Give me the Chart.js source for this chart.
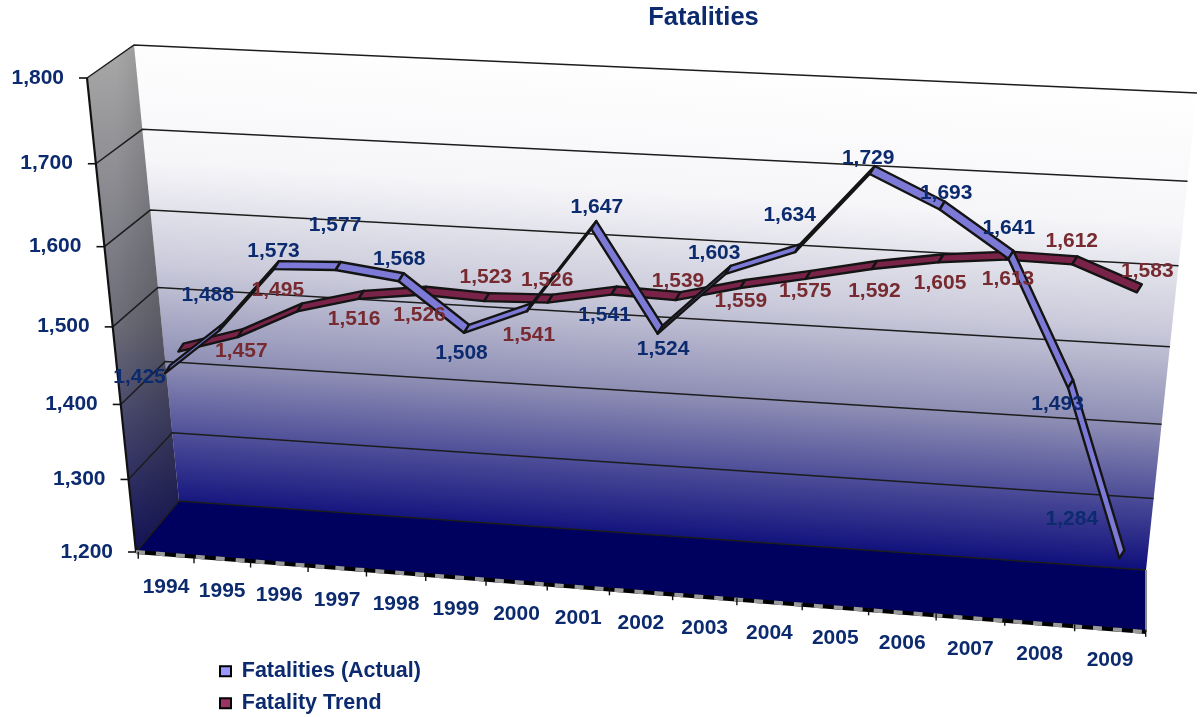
<!DOCTYPE html>
<html>
<head>
<meta charset="utf-8">
<title>Fatalities</title>
<script src="https://cdn.jsdelivr.net/npm/chart.js@4"></script>
<style>
  body { margin: 0; background: #fff; }
</style>
</head>
<body>
<canvas id="chart" width="1201" height="717"></canvas>
<script>
const years = ["1994","1995","1996","1997","1998","1999","2000","2001","2002","2003","2004","2005","2006","2007","2008","2009"];
const actual = [1425,1488,1573,1577,1568,1508,1541,1647,1524,1603,1634,1729,1693,1641,1493,1284];
// the 1994 trend point has no readable label, value estimated from the line
const trend = [1433,1457,1495,1516,1526,1523,1526,1541,1539,1559,1575,1592,1605,1613,1612,1583];
const yMin = 1200;
const yMax = 1800;
const yStep = 100;

const navy = "#0c2a6e";
const brown = "#772b30";
const fontName = "'Liberation Sans', Arial, sans-serif";

// where each value label sits, relative to its point
const actualShift = [[-28,8],[-14,-31],[-3,-14],[-3,-41],[-2,-18],[-5,25],[75,8],[3,-18],[3,20],[-14,-16],[-8,-33],[-4,-12],[4,-12],[-2,-26],[-13,21],[-50,-35]];
const trendShift = [null,[1,18],[-22,-17],[-7,25],[-4,25],[-1,-20],[-3,-18],[-85,45],[0,-15],[-2,18],[-3,17],[0,26],[-1,25],[0,24],[-3,-19],[8,-17]];

// corners are [u0v0, u1v0, u1v1, u0v1]
const backWall = [[179,501],[1146,570],[1197,93],[134,45]];
const leftWall = [[136,552],[179,501],[134,45],[87,78]];
const floorQuad = [[136,552],[1146,632],[1146,570],[179,501]];
const actualPlane = [[185,529],[1114,617],[1176,120],[135,73]];
const trendPlane = [[198,519],[1108,583],[1159,103],[151,49]];
const yearPlane = [[166,587],[1110,660],[1160,165],[124,147]];

function homography(q) {
  const [[x0,y0],[x1,y1],[x2,y2],[x3,y3]] = q;
  const dx1 = x1-x2, dx2 = x3-x2, sx = x0-x1+x2-x3;
  const dy1 = y1-y2, dy2 = y3-y2, sy = y0-y1+y2-y3;
  const den = dx1*dy2-dx2*dy1;
  const g = (sx*dy2-dx2*sy)/den;
  const h = (dx1*sy-sx*dy1)/den;
  const a = x1-x0+g*x1, b = x3-x0+h*x3, d = y1-y0+g*y1, e = y3-y0+h*y3;
  return (u,v) => {
    const w = g*u+h*v+1;
    return { x:(a*u+b*v+x0)/w, y:(d*u+e*v+y0)/w };
  };
}
const onBack = homography(backWall);
const onLeft = homography(leftWall);
const onYears = homography(yearPlane);
const planes = [homography(actualPlane), homography(trendPlane)];

// the walls are a little more squeezed low down than a plain projection gives
function bow(v, k) {
  return v*(1-k*(1-v));
}

function unitX(chart, px) {
  const a = chart.chartArea;
  return (px-a.left)/(a.right-a.left);
}
function unitY(chart, py) {
  const a = chart.chartArea;
  return (a.bottom-py)/(a.bottom-a.top);
}

function fillQuad(ctx, q, style) {
  ctx.beginPath();
  q.forEach((p,i) => i ? ctx.lineTo(p[0],p[1]) : ctx.moveTo(p[0],p[1]));
  ctx.closePath();
  ctx.fillStyle = style;
  ctx.fill();
}

function wideText(ctx, text, x, y, color, align) {
  ctx.save();
  ctx.translate(x,y);
  ctx.scale(1.05,1);
  ctx.font = "bold 20px "+fontName;
  ctx.fillStyle = color;
  ctx.textAlign = align || "center";
  ctx.textBaseline = "middle";
  ctx.fillText(text,0,0);
  ctx.restore();
}

const perspective = {
  id: "perspective",
  afterLayout(chart) {
    const t = chart.titleBlock;
    t.left += 103; t.right += 103;
    const l = chart.legend;
    const w = l.right-l.left;
    l.left = 209.5; l.right = 209.5+w; l.top = 650; l.bottom = 750;
  },
  afterDatasetsUpdate(chart) {
    chart.data.datasets.forEach((ds,i) => {
      chart.getDatasetMeta(i).data.forEach(pt => {
        if (pt.skip) return;
        const p = planes[i](unitX(chart,pt.x), unitY(chart,pt.y));
        pt.x = p.x; pt.y = p.y;
      });
    });
  },
  beforeDatasetsDraw(chart) {
    const ctx = chart.ctx, sy = chart.scales.y, sx = chart.scales.x;
    ctx.save();

    let g = ctx.createLinearGradient(690,60,660,540);
    g.addColorStop(0,"#ffffff");
    g.addColorStop(0.28,"#f6f6f9");
    g.addColorStop(0.5,"#c9c9da");
    g.addColorStop(0.7,"#8d8db4");
    g.addColorStop(0.85,"#4c4c98");
    g.addColorStop(1,"#0f0f7c");
    fillQuad(ctx, backWall, g);

    g = ctx.createLinearGradient(120,50,135,550);
    g.addColorStop(0,"#a8a8a8");
    g.addColorStop(0.55,"#6c6c78");
    g.addColorStop(1,"#15155f");
    fillQuad(ctx, leftWall, g);
    g = ctx.createLinearGradient(115,0,178,0);
    g.addColorStop(0,"rgba(0,0,0,0)");
    g.addColorStop(1,"rgba(0,0,0,0.22)");
    fillQuad(ctx, leftWall, g);

    fillQuad(ctx, floorQuad, "#00005f");

    // value grid on both walls
    ctx.strokeStyle = "#1c1c1c";
    ctx.lineWidth = 1.5;
    sy.ticks.forEach(t => {
      const v = unitY(chart, sy.getPixelForValue(t.value));
      const f = onLeft(0,bow(v,0.055)), m = onBack(0,bow(v,0.035)), e = onBack(1,bow(v,0.03));
      ctx.beginPath();
      ctx.moveTo(f.x,f.y); ctx.lineTo(m.x,m.y); ctx.lineTo(e.x,e.y);
      ctx.stroke();
    });

    // left edge and value ticks
    ctx.lineWidth = 2.2;
    ctx.strokeStyle = "#111";
    ctx.beginPath();
    ctx.moveTo(leftWall[0][0],leftWall[0][1]);
    ctx.lineTo(leftWall[3][0],leftWall[3][1]);
    ctx.stroke();
    sy.ticks.forEach(t => {
      const p = onLeft(0, bow(unitY(chart, sy.getPixelForValue(t.value)),0.055));
      ctx.lineWidth = 1.6;
      ctx.beginPath();
      ctx.moveTo(p.x-8,p.y); ctx.lineTo(p.x,p.y);
      ctx.stroke();
      wideText(ctx, t.value.toLocaleString("en-US"), p.x-23, p.y, navy, "right");
    });

    // floor front edge with year labels
    ctx.lineWidth = 4;
    ctx.strokeStyle = "#000";
    ctx.beginPath();
    ctx.moveTo(floorQuad[0][0],floorQuad[0][1]);
    ctx.lineTo(floorQuad[1][0],floorQuad[1][1]);
    ctx.stroke();
    ctx.strokeStyle = "#9a9a9a";
    ctx.setLineDash([9,11]);
    ctx.beginPath();
    ctx.moveTo(floorQuad[0][0],floorQuad[0][1]);
    ctx.lineTo(floorQuad[1][0],floorQuad[1][1]);
    ctx.stroke();
    ctx.setLineDash([]);
    ctx.strokeStyle = "#8a8a8a";
    ctx.lineWidth = 2;
    ctx.beginPath();
    ctx.moveTo(floorQuad[2][0],floorQuad[2][1]);
    ctx.lineTo(floorQuad[1][0],floorQuad[1][1]);
    ctx.stroke();

    const n = sx.ticks.length;
    ctx.strokeStyle = "#111";
    ctx.lineWidth = 1.4;
    for (let k=0; k<=n; k++) {
      const p = onYears((k-0.5)/(n-1),0);
      ctx.beginPath();
      ctx.moveTo(p.x,p.y-33); ctx.lineTo(p.x,p.y-26);
      ctx.stroke();
    }
    sx.ticks.forEach((t,i) => {
      const p = onYears(unitX(chart, sx.getPixelForTick(i)),0);
      wideText(ctx, years[i], p.x, p.y, navy);
    });
    ctx.restore();
  },
  afterDatasetDraw(chart, args) {
    // ribbon: each segment is swept back along the depth direction
    const ctx = chart.ctx;
    const ds = chart.data.datasets[args.index];
    const pts = args.meta.data;
    const dx = 2.5, dy = -4;
    ctx.save();
    ctx.lineJoin = "round";
    ctx.strokeStyle = "#141414";
    ctx.lineWidth = 2.4;
    for (let i=0; i<pts.length-1; i++) {
      const a = pts[i], b = pts[i+1];
      ctx.beginPath();
      ctx.moveTo(a.x-dx,a.y-dy);
      ctx.lineTo(b.x-dx,b.y-dy);
      ctx.lineTo(b.x+dx,b.y+dy);
      ctx.lineTo(a.x+dx,a.y+dy);
      ctx.closePath();
      ctx.fillStyle = ds.ribbonColor;
      ctx.fill();
      ctx.stroke();
    }
    ctx.restore();
  },
  afterDatasetsDraw(chart) {
    const ctx = chart.ctx;
    const drawLabels = (index, values, shifts, color) => {
      chart.getDatasetMeta(index).data.forEach((pt,i) => {
        if (!shifts[i]) return;
        wideText(ctx, values[i].toLocaleString("en-US"), pt.x+shifts[i][0], pt.y+shifts[i][1], color);
      });
    };
    drawLabels(0, actual, actualShift, navy);
    drawLabels(1, trend, trendShift, brown);
  }
};

new Chart(document.getElementById("chart"), {
  type: "line",
  data: {
    labels: years,
    datasets: [
      { label: "Fatalities (Actual)", data: actual, borderColor: "#000", backgroundColor: "#9999ff",
        ribbonColor: "#7c7ad6", borderWidth: 2, pointRadius: 0, clip: false, tension: 0 },
      { label: "Fatality Trend", data: trend, borderColor: "#000", backgroundColor: "#993366",
        ribbonColor: "#7a2349", borderWidth: 2, pointRadius: 0, clip: false, tension: 0 }
    ]
  },
  options: {
    responsive: false,
    animation: false,
    events: [],
    layout: { padding: 0 },
    scales: {
      x: { display: false, offset: false, ticks: { autoSkip: false } },
      y: { display: false, min: yMin, max: yMax, ticks: { stepSize: yStep } }
    },
    plugins: {
      tooltip: { enabled: false },
      title: {
        display: true,
        text: "Fatalities",
        color: navy,
        font: { family: fontName, size: 25.5, weight: "bold" },
        padding: { top: 3, bottom: 6 }
      },
      legend: {
        position: "left",
        align: "start",
        labels: {
          color: navy,
          font: { family: fontName, size: 21.5, weight: "bold" },
          boxWidth: 11,
          boxHeight: 10,
          padding: 10.5
        }
      }
    }
  },
  plugins: [perspective]
});
</script>
</body>
</html>
